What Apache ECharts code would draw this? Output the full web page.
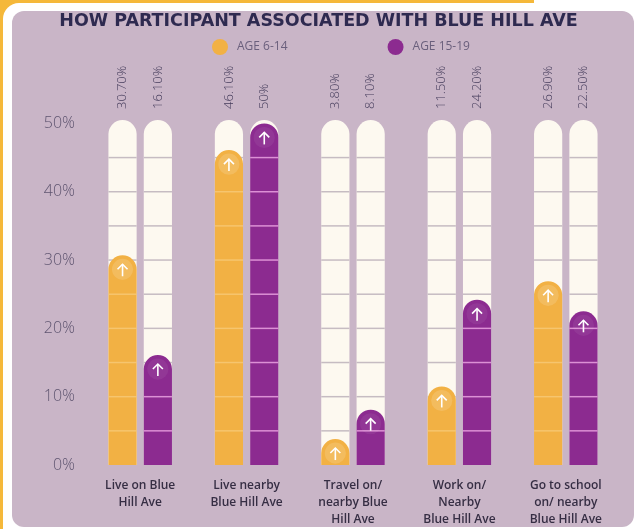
<!DOCTYPE html>
<html>
<head>
<meta charset="utf-8">
<script src="https://cdn.jsdelivr.net/npm/echarts@6/dist/echarts.min.js"></script>
<style>
  html, body { margin: 0; padding: 0; background: #f5b83a; }
  #chart { width: 637px; height: 529px; }
</style>
</head>
<body>
<div id="chart"></div>
<script>
// Survey answers: how young participants are associated with Blue Hill Ave
const categories = [
  'Live on Blue\nHill Ave',
  'Live nearby\nBlue Hill Ave',
  'Travel on/\nnearby Blue\nHill Ave',
  'Work on/\nNearby\nBlue Hill Ave',
  'Go to school\non/ nearby\nBlue Hill Ave'
];
const seriesNames = ['AGE 6-14', 'AGE 15-19'];
const age6to14 = [30.7, 46.1, 3.8, 11.5, 26.9];
const age15to19 = [16.1, 50, 8.1, 24.2, 22.5];
const yTicks = [0, 10, 20, 30, 40, 50];
const trackTicks = [5, 10, 15, 20, 25, 30, 35, 40, 45];

const ORANGE = '#f2b144';
const PURPLE = '#8c2b90';
const TRACK = '#fdf9f0';
const MAUVE = '#c9b5c7';
const SCALE_TOP = 50.5;

function pctText(v) {
  return Number.isInteger(v) ? v + '%' : v.toFixed(2) + '%';
}

// Each bar sits in a rounded "tube": a cream track up to the top of the scale,
// filled from the bottom to the value, with 5% rungs and an arrow in the cap.
function tubeRenderer(fill, rungOnFill, halo, side) {
  return function (params, api) {
    const idx = api.value(0);
    const val = api.value(1);
    const band = api.size([1, 0])[0];
    const base = api.coord([idx, 0]);
    const bw = band * 0.265;
    const r = bw / 2;
    const cx = base[0] + side * band * 0.166;
    const y0 = base[1];
    const yTop = api.coord([idx, SCALE_TOP])[1];
    const yVal = api.coord([idx, val])[1];
    const children = [];

    children.push({
      type: 'rect',
      shape: { x: cx - r, y: yTop, width: bw, height: y0 - yTop, r: [r, r, 0, 0] },
      style: { fill: TRACK }
    });
    trackTicks.forEach(function (t) {
      const y = api.coord([idx, t])[1];
      children.push({
        type: 'line',
        shape: { x1: cx - r, y1: y, x2: cx + r, y2: y },
        style: { stroke: '#c6bcc2', lineWidth: 1.5 }
      });
    });
    children.push({
      type: 'rect',
      shape: { x: cx - r, y: yVal, width: bw, height: y0 - yVal, r: [r, r, 0, 0] },
      style: { fill: fill }
    });
    trackTicks.forEach(function (t) {
      const y = api.coord([idx, t])[1];
      if (y > yVal + r) {
        children.push({
          type: 'line',
          shape: { x1: cx - r, y1: y, x2: cx + r, y2: y },
          style: { stroke: rungOnFill, lineWidth: 1.5 }
        });
      }
    });
    // soft halo and arrow in the cap
    children.push({
      type: 'circle',
      shape: { cx: cx, cy: yVal + r, r: r * 0.75 },
      style: { fill: halo }
    });
    children.push({
      type: 'line',
      shape: { x1: cx, y1: yVal + 9, x2: cx, y2: yVal + 21 },
      style: { stroke: '#ffffff', lineWidth: 1.6 }
    });
    children.push({
      type: 'polyline',
      shape: { points: [[cx - 5, yVal + 14], [cx, yVal + 9], [cx + 5, yVal + 14]] },
      style: { stroke: '#ffffff', lineWidth: 1.6, fill: null }
    });
    // rotated value label above the tube
    children.push({
      type: 'text',
      x: cx,
      y: yTop - 11,
      rotation: Math.PI / 2,
      style: {
        text: pctText(val),
        fill: '#463d5c',
        font: '300 13px "Open Sans", sans-serif',
        align: 'left',
        verticalAlign: 'middle'
      }
    });
    return { type: 'group', children: children };
  };
}

const chart = echarts.init(document.getElementById('chart'), null, { renderer: 'canvas' });

chart.setOption({
  backgroundColor: '#f5b83a',
  animation: false,
  graphic: [
    { type: 'rect', z: -10, shape: { x: 3, y: 3, width: 680, height: 580, r: 16 }, style: { fill: '#ffffff' } },
    { type: 'rect', z: -10, shape: { x: 534, y: 0, width: 110, height: 6 }, style: { fill: '#ffffff' } },
    { type: 'rect', z: -9, shape: { x: 12, y: 11, width: 622, height: 516, r: 12 }, style: { fill: MAUVE } }
  ],
  title: {
    text: 'HOW PARTICIPANT ASSOCIATED WITH BLUE HILL AVE',
    left: 'center',
    top: 7,
    textStyle: {
      fontFamily: '"DejaVu Sans", sans-serif',
      fontWeight: 'bold',
      fontSize: 17.5,
      color: '#2e2a50'
    }
  },
  legend: {
    data: seriesNames,
    left: 207,
    top: 34,
    icon: 'circle',
    itemWidth: 16,
    itemHeight: 16,
    itemGap: 100,
    textStyle: {
      color: '#6a5f7c',
      fontFamily: '"Open Sans", sans-serif',
      fontSize: 12,
      width: 70,
      padding: [0, 0, 0, 4]
    }
  },
  grid: { left: 87, right: 18, top: 120, bottom: 64 },
  xAxis: {
    type: 'category',
    data: categories,
    axisLine: { show: false },
    axisTick: { show: false },
    axisLabel: {
      margin: 12,
      color: '#362e44',
      fontFamily: '"Open Sans", sans-serif',
      fontSize: 12,
      fontWeight: 600,
      lineHeight: 17,
      interval: 0
    }
  },
  yAxis: {
    type: 'value',
    min: 0,
    max: SCALE_TOP,
    interval: 10,
    splitLine: { show: false },
    axisLine: { show: false },
    axisTick: { show: false },
    axisLabel: {
      margin: 12,
      color: '#5f5570',
      fontFamily: '"Open Sans", sans-serif',
      fontSize: 16,
      fontWeight: 300,
      formatter: function (v) { return yTicks.indexOf(v) >= 0 ? v + '%' : ''; }
    }
  },
  series: [
    {
      name: seriesNames[0],
      type: 'custom',
      clip: false,
      itemStyle: { color: ORANGE },
      encode: { x: 0, y: 1 },
      data: age6to14.map(function (v, i) { return [i, v]; }),
      renderItem: tubeRenderer(ORANGE, 'rgba(255,236,190,0.35)', 'rgba(255,255,255,0.14)', -1)
    },
    {
      name: seriesNames[1],
      type: 'custom',
      clip: false,
      itemStyle: { color: PURPLE },
      encode: { x: 0, y: 1 },
      data: age15to19.map(function (v, i) { return [i, v]; }),
      renderItem: tubeRenderer(PURPLE, 'rgba(240,170,230,0.8)', 'rgba(255,255,255,0.06)', 1)
    }
  ]
});
</script>
</body>
</html>
